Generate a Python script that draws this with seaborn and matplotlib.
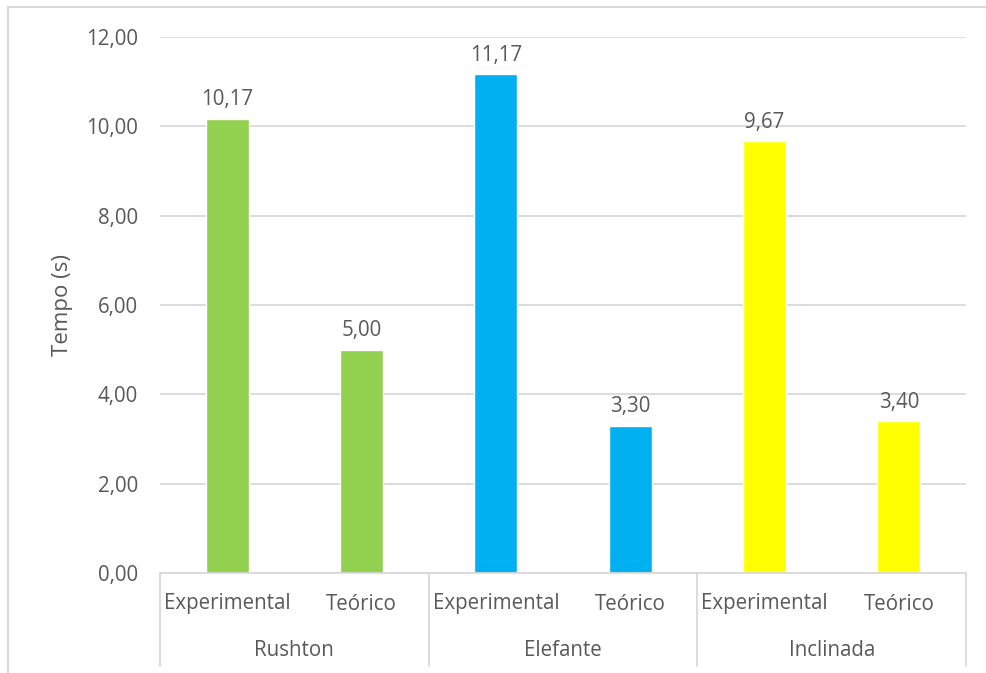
import matplotlib
matplotlib.use("Agg")
import matplotlib.pyplot as plt
import matplotlib.transforms as mtransforms
from matplotlib.lines import Line2D
import seaborn as sns
import pandas as pd

# Chart data
grupos = ["Rushton", "Elefante", "Inclinada"]
tipos = ["Experimental", "Teórico"]
experimental = [10.17, 11.17, 9.67]
teorico = [5.00, 3.30, 3.40]
y_ticks = [0, 2, 4, 6, 8, 10, 12]
cores = {"Rushton": "#92D050", "Elefante": "#00B0F0", "Inclinada": "#FFFF00"}

rows = []
for g, e, t in zip(grupos, experimental, teorico):
    rows.append({"grupo": g, "tipo": tipos[0], "valor": e})
    rows.append({"grupo": g, "tipo": tipos[1], "valor": t})
df = pd.DataFrame(rows)
df["pos"] = df["grupo"] + "|" + df["tipo"]

sns.set_theme(style="white")
plt.rcParams["font.family"] = ["Open Sans", "DejaVu Sans"]
TXT = "#595959"
GRID = "#D9D9D9"
FS = 14.8

W, H = 986, 673
fig = plt.figure(figsize=(W / 100, H / 100), dpi=100)
x0, x1, y_top, y_bot = 160, 966, 37, 573
ax = fig.add_axes([x0 / W, 1 - y_bot / H, (x1 - x0) / W, (y_bot - y_top) / H])

sns.barplot(data=df, x="pos", y="valor", hue="grupo", palette=cores,
            dodge=False, width=0.32, legend=False, ax=ax, saturation=1)

ax.set_ylim(0, 12)
ax.set_xlim(-0.5, len(df) - 0.5)
ax.set_yticks(y_ticks)
ax.set_yticklabels([f"{v:.2f}".replace(".", ",") for v in y_ticks],
                   color=TXT, fontsize=FS)
ax.tick_params(axis="y", length=0, pad=16)
ax.set_xticks([])
ax.set_xlabel("")
ax.set_ylabel("Tempo (s)", color=TXT, fontsize=16, labelpad=9)

for s in ["top", "right", "left"]:
    ax.spines[s].set_visible(False)
ax.spines["bottom"].set_color(GRID)
ax.spines["bottom"].set_linewidth(1.3)
ax.yaxis.grid(True, color=GRID, linewidth=1.3)
ax.set_axisbelow(True)

for cont in ax.containers:
    ax.bar_label(cont, labels=[f"{b.get_height():.2f}".replace(".", ",") for b in cont],
                 padding=6, color=TXT, fontsize=FS)

# Two-level category axis below the plot
trans = mtransforms.blended_transform_factory(ax.transData, fig.transFigure)
row1 = 1 - 604 / H
row2 = 1 - 650 / H
sep_bottom = 1 - 666 / H
for i, (g, t) in enumerate(zip(df["grupo"], df["tipo"])):
    ax.text(i, row1, t, transform=trans, ha="center", va="center",
            color=TXT, fontsize=FS)
for k, g in enumerate(grupos):
    ax.text(2 * k + 0.5, row2, g, transform=trans, ha="center", va="center",
            color=TXT, fontsize=FS)
for xs in [-0.5, 1.5, 3.5, 5.5]:
    fig.add_artist(Line2D([xs, xs], [1 - y_bot / H, sep_bottom], transform=trans,
                          color=GRID, linewidth=1.3))

# Chart frame
fig.add_artist(Line2D([8 / W, 8 / W], [1 - 7 / H, 0], color=GRID, linewidth=1.5))
fig.add_artist(Line2D([8 / W, 1], [1 - 7 / H, 1 - 7 / H], color=GRID, linewidth=1.5))

fig.savefig("out.png", dpi=100, facecolor="white")
